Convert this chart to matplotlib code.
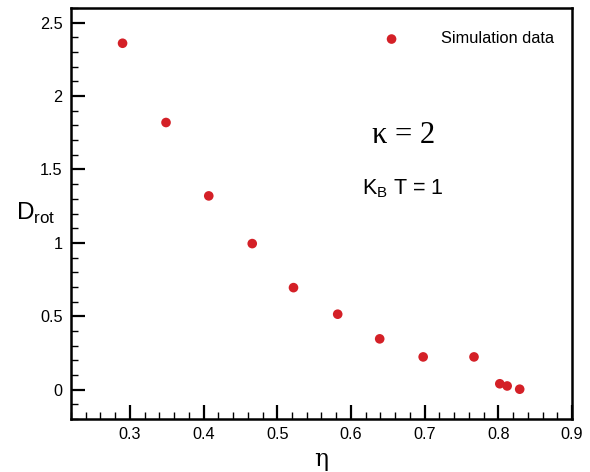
import matplotlib.pyplot as plt
from matplotlib.ticker import MultipleLocator

# packing fraction and rotational diffusion coefficient
eta = [0.290, 0.349, 0.407, 0.466, 0.522, 0.582, 0.639, 0.698, 0.767, 0.802, 0.812, 0.829]
d_rot = [2.36, 1.82, 1.32, 0.995, 0.695, 0.514, 0.346, 0.223, 0.223, 0.040, 0.025, 0.003]

plt.rcParams['font.family'] = ['Liberation Sans', 'DejaVu Sans']

fig = plt.figure(figsize=(5.9, 4.72), dpi=100)
ax = fig.add_axes([0.1203, 0.1123, 0.8492, 0.8707])

ax.scatter(eta, d_rot, s=48, color='#d42027', edgecolors='none',
           label='Simulation data', zorder=3)

ax.set_xlim(0.22, 0.9)
ax.set_ylim(-0.2, 2.6)
ax.xaxis.set_minor_locator(MultipleLocator(0.02))
ax.yaxis.set_minor_locator(MultipleLocator(0.1))
ax.set_xticks([0.3, 0.4, 0.5, 0.6, 0.7, 0.8, 0.9])
ax.set_xticklabels(['0.3', '0.4', '0.5', '0.6', '0.7', '0.8', '0.9'])
ax.set_yticks([0, 0.5, 1, 1.5, 2, 2.5])
ax.set_yticklabels(['0', '0.5', '1', '1.5', '2', '2.5'])
ax.tick_params(which='major', direction='in', length=10, width=1.6, labelsize=11.7, pad=6)
ax.tick_params(which='minor', direction='in', length=5, width=1.0)
for sp in ax.spines.values():
    sp.set_linewidth(1.8)

ax.set_xlabel('η', family='DejaVu Serif', fontsize=17, labelpad=4)
ax.set_ylabel(r'D$_{\mathregular{rot}}$', fontsize=17.5, rotation=0,
              ha='left', va='center')
ax.yaxis.set_label_coords(-0.109, 0.5)

ax.legend(loc='center left', frameon=False, fontsize=11.8, handlelength=1.0,
          handletextpad=2.5, borderpad=0, borderaxespad=0,
          bbox_to_anchor=(0.6235, 0.925))

ax.text(0.601, 0.689, 'κ = 2', transform=ax.transAxes, family='Liberation Serif',
        fontsize=22, ha='left', va='center')
ax.text(0.581, 0.56, r'K$_{\mathregular{B}}$ T = 1', transform=ax.transAxes,
        fontsize=15.5, ha='left', va='center')

fig.savefig('out.png', dpi=100)
